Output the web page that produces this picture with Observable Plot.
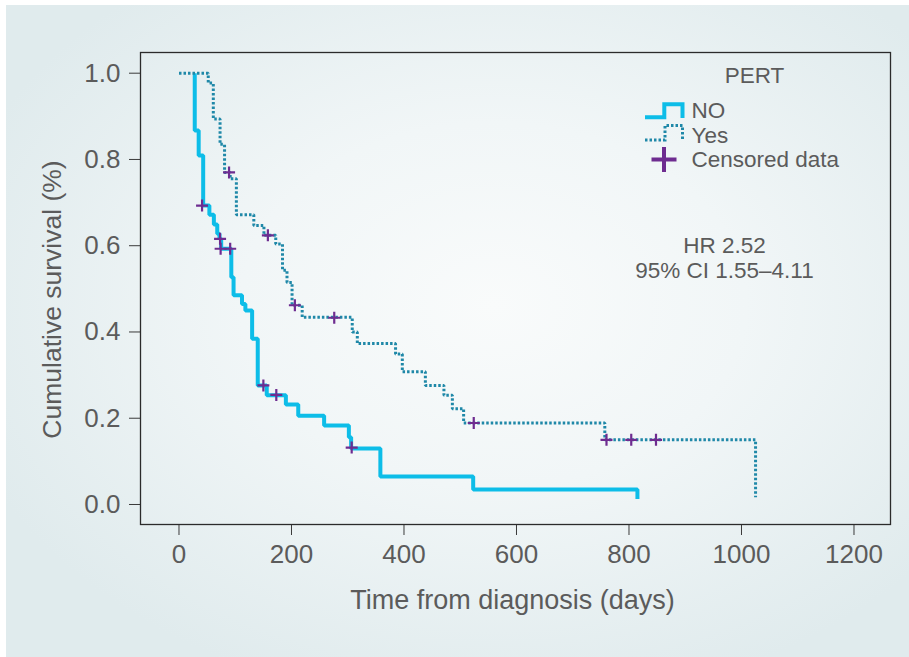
<!DOCTYPE html>
<html>
<head>
<meta charset="utf-8">
<script src="https://cdn.jsdelivr.net/npm/d3@7"></script>
<script src="https://cdn.jsdelivr.net/npm/@observablehq/plot@0.6"></script>
<style>
html, body { margin: 0; padding: 0; background: #ffffff; }
#wrap { position: relative; width: 909px; height: 657px; overflow: hidden; }
#panel { position: absolute; left: 6px; top: 5px; width: 903px; height: 652px;
  background: radial-gradient(ellipse 62% 62% at 54% 46%, #f9fbfb 0%, #f1f6f7 45%, #e0ebed 100%); }
#chart { position: absolute; left: 0; top: 0; }
</style>
</head>
<body>
<div id="wrap"><div id="panel"></div><div id="chart"></div></div>
<script>
// ---- data ----
const xTicks = [0, 200, 400, 600, 800, 1000, 1200];
const yTicks = [0.0, 0.2, 0.4, 0.6, 0.8, 1.0];

// PERT = NO (solid)
const noDays = [28, 28, 35, 43, 54, 62, 68, 72, 75, 93, 97, 112, 118, 130, 140, 156, 190, 212, 258, 302, 306, 358, 523, 815];
const noSurv = [1.0, 0.867, 0.809, 0.693, 0.672, 0.649, 0.628, 0.616, 0.593, 0.527, 0.485, 0.465, 0.45, 0.384, 0.276, 0.253, 0.232, 0.206, 0.183, 0.156, 0.13, 0.065, 0.035, 0.013];
const noCensDays = [41, 73, 74, 91, 150, 173, 307];
const noCensSurv = [0.693, 0.616, 0.593, 0.593, 0.276, 0.254, 0.132];

// PERT = Yes (dotted)
const yesDays = [0, 52, 61, 73, 81, 91, 102, 133, 151, 172, 184, 192, 201, 219, 308, 317, 385, 397, 438, 471, 486, 506, 757, 1025];
const yesSurv = [1.0, 0.977, 0.894, 0.835, 0.770, 0.755, 0.672, 0.647, 0.624, 0.604, 0.543, 0.515, 0.462, 0.434, 0.40, 0.373, 0.349, 0.308, 0.276, 0.253, 0.222, 0.189, 0.15, 0.017];
const yesCensDays = [89, 158, 206, 276, 524, 760, 804, 848];
const yesCensSurv = [0.770, 0.624, 0.462, 0.433, 0.189, 0.15, 0.15, 0.15];

const xLabel = "Time from diagnosis (days)";
const yLabel = "Cumulative survival (%)";
const legendTitle = "PERT";
const legendLabels = ["NO", "Yes", "Censored data"];
const statLines = ["HR 2.52", "95% CI 1.55\u20134.11"];

// ---- build tables ----
const noData = noDays.map((d, i) => ({day: d, s: noSurv[i]}));
const yesData = yesDays.map((d, i) => ({day: d, s: yesSurv[i]}));
const censData = noCensDays.map((d, i) => ({day: d, s: noCensSurv[i]}))
  .concat(yesCensDays.map((d, i) => ({day: d, s: yesCensSurv[i]})));

const noColor = "#0dbde8";
const yesColor = "#1f88a8";
const censColor = "#6e2c90";
const textColor = "#5b5b5b";
const font = "'Liberation Sans', Arial, Helvetica, sans-serif";

const crossSymbol = {
  draw(ctx, size) {
    const r = Math.sqrt(size / Math.PI);
    ctx.moveTo(-r, 0); ctx.lineTo(r, 0);
    ctx.moveTo(0, -r); ctx.lineTo(0, r);
  }
};

const legendText = (str, dx, dy, anchor) =>
  Plot.text([str], {text: d => d, frameAnchor: "top-left", dx, dy, textAnchor: anchor, lineAnchor: "middle", fontSize: 22.5, fill: textColor});

const plot = Plot.plot({
  width: 909,
  height: 657,
  marginLeft: 140,
  marginRight: 19,
  marginTop: 52,
  marginBottom: 133,
  x: {domain: [-68.44, 1264.9]},
  y: {domain: [-0.0464, 1.048]},
  style: {background: "transparent", fontFamily: font, fontSize: "26px", color: textColor, overflow: "visible"},
  marks: [
    Plot.axisX({ticks: xTicks, tickSize: 11, tickPadding: 9, stroke: "#3a3a3a", fill: textColor, label: null, tickFormat: d => String(d)}),
    Plot.axisY({ticks: yTicks, tickSize: 11, tickPadding: 9, stroke: "#3a3a3a", fill: textColor, label: null, tickFormat: d => d.toFixed(1)}),
    Plot.frame({stroke: "#2b2b2b", strokeWidth: 1.3}),
    Plot.line(noData, {x: "day", y: "s", curve: "step-after", stroke: noColor, strokeWidth: 4, strokeLinejoin: "miter", strokeLinecap: "butt"}),
    Plot.line(yesData, {x: "day", y: "s", curve: "step-after", stroke: yesColor, strokeWidth: 3, strokeDasharray: "2.5,2", strokeLinejoin: "miter", strokeLinecap: "butt"}),
    Plot.dot(censData, {x: "day", y: "s", symbol: crossSymbol, r: 6, stroke: censColor, strokeWidth: 2.2, fill: "none"}),
    Plot.text([xLabel], {text: d => d, frameAnchor: "bottom", dx: -3, dy: 76, textAnchor: "middle", lineAnchor: "middle", fontSize: 27, fill: textColor}),
    Plot.text([yLabel], {text: d => d, frameAnchor: "left", dx: -88, dy: 11, rotate: -90, textAnchor: "middle", lineAnchor: "middle", fontSize: 26.5, fill: textColor}),
    legendText(legendTitle, 614, 23, "middle"),
    legendText(legendLabels[0], 551, 58.5, "start"),
    legendText(legendLabels[1], 551, 83.5, "start"),
    legendText(legendLabels[2], 551, 107.5, "start"),
    legendText(statLines[0], 584, 193, "middle"),
    legendText(statLines[1], 584, 218, "middle")
  ]
});

// legend glyphs
const svg = d3.select(plot);
const lg = svg.append("g").attr("fill", "none");
lg.append("path").attr("d", "M645,117.3H664.3V104.3H682.5V118")
  .attr("stroke", noColor).attr("stroke-width", 4).attr("stroke-linejoin", "miter");
lg.append("path").attr("d", "M645,140H665V125.5H682.5V140.5")
  .attr("stroke", yesColor).attr("stroke-width", 3).attr("stroke-dasharray", "2.5,2");
lg.append("path").attr("d", "M651.5,159.5H676.5M664,147V172")
  .attr("stroke", censColor).attr("stroke-width", 4);

document.getElementById("chart").appendChild(plot);
</script>
</body>
</html>
